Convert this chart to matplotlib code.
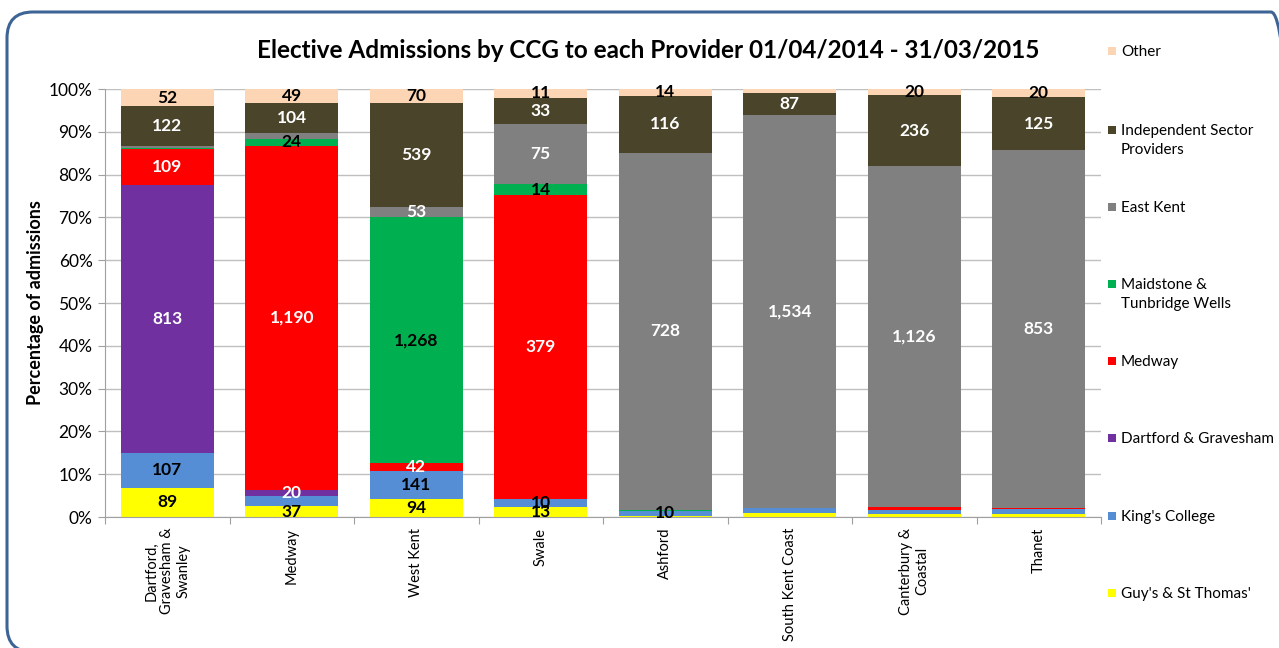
import numpy as np
import matplotlib
matplotlib.use("Agg")
import matplotlib.pyplot as plt
from matplotlib.patches import FancyBboxPatch, Rectangle

plt.rcParams['font.family'] = ['Lato', 'DejaVu Sans']

# CCGs (x axis)
ccgs = ["Dartford,\nGravesham &\nSwanley", "Medway", "West Kent", "Swale",
        "Ashford", "South Kent Coast", "Canterbury &\nCoastal", "Thanet"]

# providers, bottom of stack first
providers = ["Guy's & St Thomas'", "King's College", "Dartford & Gravesham", "Medway",
             "Maidstone &\nTunbridge Wells", "East Kent", "Independent Sector\nProviders", "Other"]
colors = ["#FFFF00", "#558ED5", "#7030A0", "#FF0000", "#00B050", "#808080", "#4A452A", "#FCD5B5"]
label_colors = ["black", "black", "white", "white", "black", "white", "white", "black"]

# admissions counts per provider (same order as ccgs)
guys = [89, 37, 94, 13, 3, 14, 10, 6]
kings = [107, 35, 141, 10, 10, 23, 14, 13]
dartford_grav = [813, 20, 0, 0, 0, 0, 0, 0]
medway = [109, 1190, 42, 379, 0, 0, 8, 3]
maidstone_tw = [4, 24, 1268, 14, 2, 0, 0, 0]
east_kent = [6, 18, 53, 75, 728, 1534, 1126, 853]
indep = [122, 104, 539, 33, 116, 87, 236, 125]
other = [52, 49, 70, 11, 14, 14, 20, 20]

# values that carry no data label in the original (provider index, ccg index)
no_label = {(0, 4), (0, 5), (0, 6), (0, 7), (1, 1), (1, 5), (1, 6), (1, 7),
            (3, 6), (3, 7), (4, 0), (4, 4), (5, 0), (5, 1), (7, 5)}

counts = np.array([guys, kings, dartford_grav, medway, maidstone_tw, east_kent, indep, other], dtype=float)
totals = counts.sum(axis=0)
pct = counts / totals

fig = plt.figure(figsize=(12.79, 6.48), dpi=100)
ax = fig.add_axes([105 / 1279, 1 - 517 / 648, (1101 - 105) / 1279, (517 - 89) / 648])

# rounded chart border (display pixels)
fig.patches.append(FancyBboxPatch((7, -4), 1290, 640, boxstyle="round,pad=0,rounding_size=26",
                                  transform=None, fill=False, edgecolor="#3E6496", linewidth=2.2,
                                  clip_on=False))

x = np.arange(len(ccgs))
bottom = np.zeros(len(ccgs))
for i in range(len(providers)):
    ax.bar(x, pct[i], 0.75, bottom=bottom, color=colors[i], edgecolor="none", zorder=2)
    for j in range(len(ccgs)):
        if counts[i, j] > 0 and (i, j) not in no_label:
            ax.text(x[j], bottom[j] + pct[i, j] / 2, f"{int(counts[i, j]):,}", ha="center", va="center",
                    color=label_colors[i], fontsize=12.5, fontweight="bold", zorder=3)
    bottom += pct[i]

ax.set_xlim(-0.5, len(ccgs) - 0.5)
ax.set_ylim(0, 1)
ax.set_yticks(np.arange(0, 1.01, 0.1))
ax.set_yticklabels([f"{int(round(v * 100))}%" for v in np.arange(0, 1.01, 0.1)], fontsize=12.5)
ax.yaxis.grid(True, color="#BFBFBF", linewidth=1, zorder=0)
ax.set_axisbelow(True)
ax.set_xticks(np.arange(-0.5, len(ccgs)))
ax.set_xticklabels([])
ax.tick_params(axis="x", length=5, color="#A0A0A0")
ax.tick_params(axis="y", length=5, color="#A0A0A0", pad=4)
for j, name in enumerate(ccgs):
    ax.text(x[j], -0.025, name, rotation=90, ha="center", va="top", multialignment="center",
            fontsize=10.5, transform=ax.get_xaxis_transform())
for s in ["top", "right"]:
    ax.spines[s].set_visible(False)
ax.spines["left"].set_color("#A0A0A0")
ax.spines["bottom"].set_color("#A0A0A0")

ax.set_ylabel("Percentage of admissions", fontsize=13, fontweight="bold", labelpad=3)
fig.text(648 / 1279, 1 - 51 / 648, "Elective Admissions by CCG to each Provider 01/04/2014 - 31/03/2015",
         ha="center", va="center", fontsize=17.5, fontweight="bold")

# legend, top entry first
leg_y = [51, 130, 207, 284, 361, 438, 516, 593]
for k, i in enumerate(range(len(providers) - 1, -1, -1)):
    y = 1 - leg_y[k] / 648
    fig.patches.append(Rectangle((1108 / 1279, y - 4 / 648), 8 / 1279, 8 / 648, transform=fig.transFigure,
                                 facecolor=colors[i], edgecolor="none"))
    fig.text(1121 / 1279, y + 6 / 648, providers[i], ha="left", va="top", fontsize=11, linespacing=1.45)

fig.savefig("out.png", dpi=100)
